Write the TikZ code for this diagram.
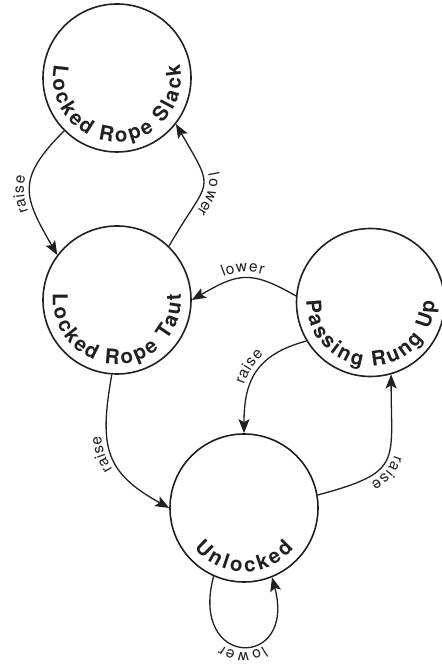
\documentclass[tikz,border=0pt]{standalone}
\usepackage{fontspec}
\setmainfont{TeX Gyre Heros}
\newfontfamily\lblfam[LetterSpace=11]{TeX Gyre Heros}
\usetikzlibrary{decorations.text, arrows.meta, calc}
\definecolor{ink}{RGB}{35,31,32}
\newcommand{\titlefont}{\fontsize{20.5}{24}\selectfont\bfseries}
\newcommand{\lblfont}{\lblfam\fontsize{15.5}{18}\selectfont}
\begin{document}
\begin{tikzpicture}[x=1pt, y=1pt,
  state/.style={circle, draw=ink, line width=1.6pt, minimum size=148pt, inner sep=0pt},
  edge/.style={draw=ink, line width=1.3pt, -{Stealth[length=14pt, width=11pt, inset=3pt]}},
  lbl/.style={decorate, decoration={text along path, text={|\lblfont\color{ink}|#1}, raise=6pt}},
  ttl/.style={decorate, decoration={text along path, text={|\titlefont\color{ink}|#1}, text align={fit to path}}}
]
\useasboundingbox (0,0) rectangle (441,668);

% states
\node[state] (slack) at (117,590) {};
\node[state] (taut)  at (117,368) {};
\node[state] (pass)  at (370.5,365.5) {};
\node[state] (unl)   at (244,160) {};

% titles along the inside of each circle
\path[ttl={Locked Rope Slack}] ($(slack.center)+(168:64pt)$) arc[start angle=168, end angle=372, radius=64pt];
\path[ttl={Locked Rope Taut}]  ($(taut.center)+(174.5:64pt)$) arc[start angle=174.5, end angle=365.5, radius=64pt];
\path[ttl={Passing Rung Up}]   ($(pass.center)+(178.5:64pt)$) arc[start angle=178.5, end angle=361.5, radius=64pt];
\path[ttl={Unlocked}]          ($(unl.center)+(219:64pt)$) arc[start angle=219, end angle=321, radius=64pt];

% connectors
\draw[edge] (slack.225) to[out=225, in=120, looseness=1.4] (taut.143);
\draw[edge] (taut.46)   to[out=60, in=-60, looseness=1.7] (slack.322);
\draw[edge] (pass.175)  to[out=150, in=30, looseness=1.3] (taut.0);
\draw[edge] (pass.211)  to[out=195, in=90, looseness=1.2] (unl.90);
\draw[edge] (taut.266)  to[out=260, in=151, looseness=1.3] (unl.180);
\draw[edge] (unl.10)    to[out=15, in=-90, looseness=1.6] (pass.286);
\draw[edge] (unl.246)   to[out=255, in=285, looseness=4.2] (unl.292);

% labels (along the reversed connectors)
\path[lbl={raise}, decoration={text align={center, right indent=6pt}}]  (taut.143)  to[out=120, in=225, looseness=1.4] (slack.225);
\path[lbl={lower}, decoration={text align={center, left indent=14pt}}]  (slack.322) to[out=-60, in=60, looseness=1.7] (taut.46);
\path[lbl={lower}, decoration={text align={center}}]                    (taut.0)    to[out=30, in=150, looseness=1.3] (pass.175);
\path[lbl={raise}, decoration={text align={center, left indent=4pt}}]   (unl.90)    to[out=90, in=195, looseness=1.2] (pass.211);
\path[lbl={raise}, decoration={text align={center, left indent=6pt}}]   (unl.180)   to[out=151, in=260, looseness=1.3] (taut.266);
\path[lbl={raise}, decoration={text align={center, left indent=26pt}}]  (pass.286)  to[out=-90, in=15, looseness=1.6] (unl.10);
\path[lbl={lower}, decoration={text align={center}}]                    (unl.292)   to[out=285, in=255, looseness=4.2] (unl.246);
\end{tikzpicture}
\end{document}
